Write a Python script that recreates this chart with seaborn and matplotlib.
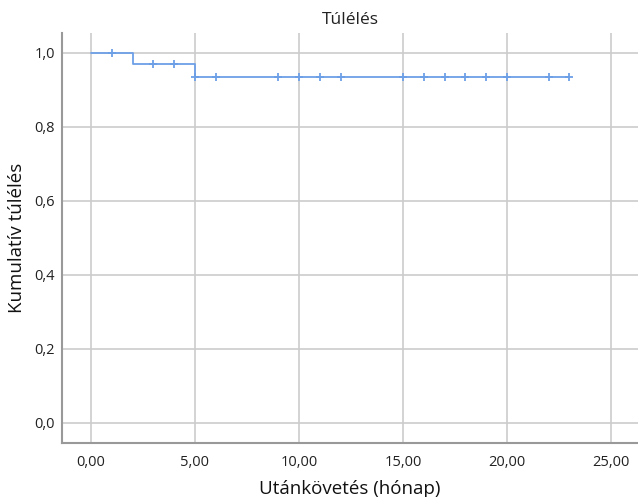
import numpy as np
import pandas as pd
import seaborn as sns
import matplotlib.pyplot as plt

# Kaplan-Meier curve (step points) and censored observations
step_time = [0, 2, 5, 23]
step_surv = [1.0, 0.97, 0.935, 0.935]
cens_time = [1, 3, 4, 5, 6, 9, 10, 11, 12, 15, 16, 17, 18, 19, 20, 22, 23]
cens_surv = [1.0, 0.97, 0.97, 0.935, 0.935, 0.935, 0.935, 0.935, 0.935,
             0.935, 0.935, 0.935, 0.935, 0.935, 0.935, 0.935, 0.935]
x_ticks = [0, 5, 10, 15, 20, 25]
y_ticks = [0.0, 0.2, 0.4, 0.6, 0.8, 1.0]

sns.set_style("white")
plt.rcParams['font.family'] = ['Open Sans', 'DejaVu Sans']

curve = pd.DataFrame({'t': step_time, 's': step_surv})
cens = pd.DataFrame({'t': cens_time, 's': cens_surv})

fig = plt.figure(figsize=(6.38, 4.97), dpi=100)
ax = fig.add_axes([0.097, 0.109, 0.903, 0.825])
blue = '#6c9fe6'

sns.lineplot(data=curve, x='t', y='s', drawstyle='steps-post', color=blue,
             linewidth=1.3, ax=ax, zorder=3)
sns.scatterplot(data=cens, x='t', y='s', marker='+', s=40, color=blue,
                linewidth=1.3, ax=ax, zorder=4)

ax.set_xlim(-1.4, 26.3)
ax.set_ylim(-0.054, 1.054)
ax.set_xticks(x_ticks)
ax.set_yticks(y_ticks)
ax.set_xticklabels([f"{v:.2f}".replace('.', ',') for v in x_ticks])
ax.set_yticklabels([f"{v:.1f}".replace('.', ',') for v in y_ticks])
ax.grid(True, color='#cccccc', linewidth=1.2, zorder=0)
ax.set_axisbelow(True)
ax.tick_params(axis='both', length=0, labelsize=10.5, colors='#222222')
ax.tick_params(axis='x', pad=9)
ax.tick_params(axis='y', pad=5)

for side in ['top', 'right']:
    ax.spines[side].set_visible(False)
for side in ['left', 'bottom']:
    ax.spines[side].set_color('#999999')
    ax.spines[side].set_linewidth(1.5)

ax.set_title('Túlélés', fontsize=12.5, color='#222222', pad=6)
ax.set_xlabel('Utánkövetés (hónap)', fontsize=13.5, color='#111111', labelpad=7)
ax.set_ylabel('Kumulatív túlélés', fontsize=13.5, color='#111111')
ax.yaxis.set_label_coords(-0.062, 0.5)

fig.savefig('out.png', dpi=100)
